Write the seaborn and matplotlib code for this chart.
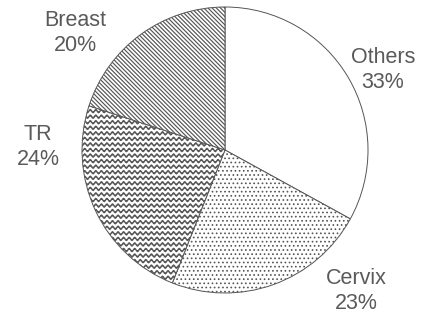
import warnings
import numpy as np
import matplotlib
matplotlib.use("Agg")
import matplotlib.pyplot as plt
import matplotlib.hatch as mhatch
from matplotlib.path import Path
import seaborn as sns

warnings.filterwarnings("ignore")

# ---- data ----
categories = ["Others", "Cervix", "TR", "Breast"]
values = [33, 23, 24, 20]
pct_labels = ["33%", "23%", "24%", "20%"]
hatches = ["", "....", "~~~", "\\" * 8]
hatch_lw = [0.8, 0.7, 1.0, 0.85]


# custom wavy hatch ("~")
class WaveHatch(mhatch.HatchPatternBase):
    pts_per_period = 8

    def __init__(self, hatch, density):
        self.num_lines = int(hatch.count("~") * density)
        if self.num_lines:
            self.npts = self.num_lines * self.pts_per_period + 1
            self.num_vertices = (self.num_lines + 1) * self.npts
        else:
            self.num_vertices = 0

    def set_vertices_and_codes(self, vertices, codes):
        n = self.num_lines
        x = np.linspace(0, 1, self.npts)
        amp = 0.28 / n
        wave = amp * np.sin(2 * np.pi * n * x)
        idx = 0
        for i in range(n + 1):
            y0 = i / n
            vertices[idx:idx + self.npts, 0] = x
            vertices[idx:idx + self.npts, 1] = y0 + wave
            codes[idx] = Path.MOVETO
            codes[idx + 1:idx + self.npts] = Path.LINETO
            idx += self.npts


mhatch._hatch_types.append(WaveHatch)

sns.set_theme(style="white")
plt.rcParams["font.family"] = ["Liberation Sans", "DejaVu Sans"]
plt.rcParams["hatch.linewidth"] = 0.8

W, H = 429, 324
fig = plt.figure(figsize=(W / 100, H / 100), dpi=100)
ax = fig.add_axes([0, 0, 1, 1])

center = (225, H - 150)
radius = 143

wedges, _ = ax.pie(values, startangle=90, counterclock=False,
                   center=center, radius=radius, frame=True,
                   wedgeprops=dict(facecolor="white", edgecolor="#555555",
                                   linewidth=0.7))
for w, h, lw in zip(wedges, hatches, hatch_lw):
    w.set_hatch(h)
    try:
        w.set_hatch_linewidth(lw)
    except Exception:
        pass
ax.set_xlim(0, W)
ax.set_ylim(0, H)
ax.set_aspect("equal")
ax.axis("off")

label_pos = [(383, H - 70), (356, H - 291), (38, H - 147), (75, H - 33)]
for name, pct, (x, y) in zip(categories, pct_labels, label_pos):
    ax.text(x, y, f"{name}\n{pct}", ha="center", va="center",
            fontsize=15.5, color="#5a5a5a", linespacing=1.2)

fig.savefig("out.png", dpi=100, facecolor="white")
